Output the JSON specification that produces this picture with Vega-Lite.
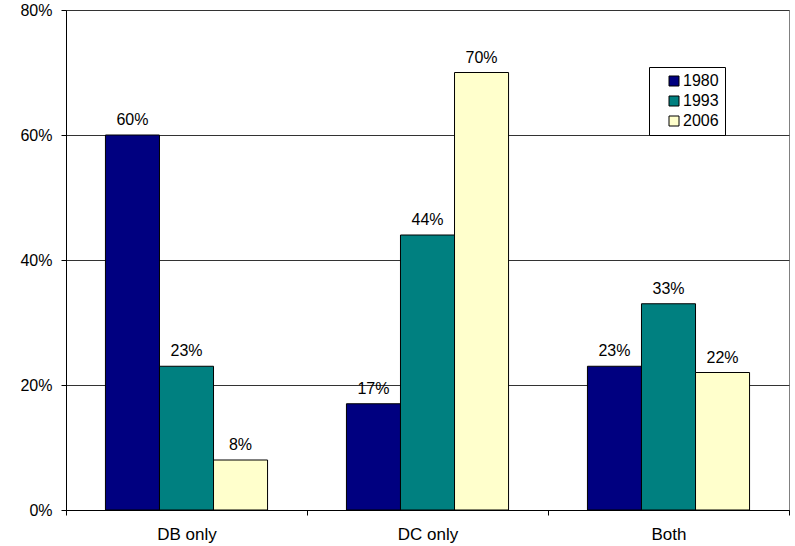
{
  "$schema": "https://vega.github.io/schema/vega-lite/v6.json",
  "width": 723,
  "height": 500,
  "autosize": {"type": "none"},
  "padding": {"left": 66, "top": 10, "right": 6, "bottom": 36},
  "background": "#ffffff",
  "config": {
    "font": "Liberation Sans",
    "view": {"stroke": "#808080", "strokeWidth": 1},
    "axis": {
      "labelFont": "Liberation Sans",
      "labelColor": "#000",
      "domainColor": "#000",
      "tickColor": "#000",
      "tickSize": 5,
      "title": null
    }
  },
  "data": {
    "values": [
      {"category": "DB only", "year": "1980", "value": 0.60},
      {"category": "DB only", "year": "1993", "value": 0.23},
      {"category": "DB only", "year": "2006", "value": 0.08},
      {"category": "DC only", "year": "1980", "value": 0.17},
      {"category": "DC only", "year": "1993", "value": 0.44},
      {"category": "DC only", "year": "2006", "value": 0.70},
      {"category": "Both", "year": "1980", "value": 0.23},
      {"category": "Both", "year": "1993", "value": 0.33},
      {"category": "Both", "year": "2006", "value": 0.22}
    ]
  },
  "encoding": {
    "x": {
      "field": "category",
      "type": "nominal",
      "sort": ["DB only", "DC only", "Both"],
      "scale": {"paddingInner": 0, "paddingOuter": 0},
      "axis": {"labelAngle": 0, "tickBand": "extent", "labelPadding": 11, "labelFontSize": 17, "grid": false}
    },
    "xOffset": {
      "field": "year",
      "type": "nominal",
      "scale": {"paddingInner": 0, "paddingOuter": 0.73}
    },
    "y": {
      "field": "value",
      "type": "quantitative",
      "scale": {"domain": [0, 0.8]},
      "axis": {
        "values": [0, 0.2, 0.4, 0.6, 0.8],
        "format": ".0%",
        "grid": true,
        "gridColor": "#333",
        "gridWidth": 1,
        "labelFontSize": 16,
        "labelPadding": 9
      }
    }
  },
  "layer": [
    {
      "mark": {"type": "bar", "stroke": "#000", "strokeWidth": 1},
      "encoding": {
        "color": {
          "field": "year",
          "type": "nominal",
          "scale": {"domain": ["1980", "1993", "2006"], "range": ["#000080", "#008080", "#FFFFCC"]},
          "legend": {
            "orient": "none",
            "legendX": 583,
            "legendY": 57,
            "title": null,
            "strokeColor": "#000",
            "fillColor": "#fff",
            "padding": 6,
            "symbolType": "square",
            "symbolSize": 100,
            "symbolOffset": 11,
            "symbolStrokeColor": "#000",
            "symbolStrokeWidth": 1,
            "symbolOpacity": 1,
            "labelFontSize": 16,
            "labelFont": "Liberation Sans",
            "labelColor": "#000",
            "labelOffset": 1,
            "rowPadding": 4
          }
        }
      }
    },
    {
      "mark": {"type": "text", "baseline": "alphabetic", "dy": -10, "fontSize": 16, "font": "Liberation Sans", "color": "#000"},
      "encoding": {
        "text": {"field": "value", "type": "quantitative", "format": ".0%"}
      }
    }
  ]
}
